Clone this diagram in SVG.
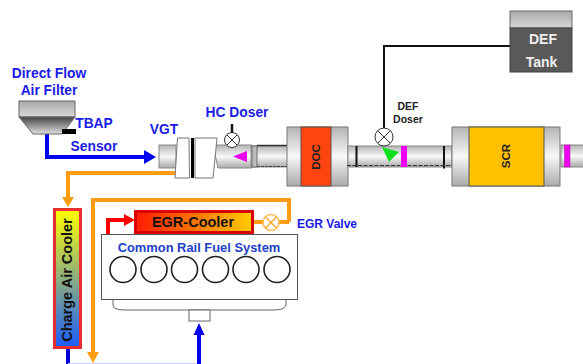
<svg xmlns="http://www.w3.org/2000/svg" width="583" height="364" viewBox="0 0 583 364">
<style>
text{font-family:"Liberation Sans",Arial,sans-serif;font-weight:bold}
.lb{fill:#1a1ae6;font-size:13.800px}
.e{fill:url(#pipe);stroke:#888;stroke-width:1}
.can{fill:url(#pipe);stroke:#777;stroke-width:1}
.cyl{fill:#fff;stroke:#222;stroke-width:1.6}
.val{fill:#fff;stroke:#333;stroke-width:1}
.x{stroke:#333;stroke-width:1;fill:none}
.or{fill:none;stroke:#ff9c12;stroke-width:4}
.bl{fill:none;stroke:#0000f0;stroke-width:4}
</style>
<defs>
<linearGradient id="pipe" x1="0" y1="0" x2="0" y2="1"><stop offset="0" stop-color="#b4b4b4"/><stop offset=".5" stop-color="#f8f8f8"/><stop offset="1" stop-color="#aaa"/></linearGradient>
<linearGradient id="fun" x1="0" y1="0" x2="0" y2="1"><stop offset="0" stop-color="#444"/><stop offset="1" stop-color="#e0e0e0"/></linearGradient>
<linearGradient id="top" x1="0" y1="0" x2="0" y2="1"><stop offset="0" stop-color="#a8a8a8"/><stop offset="1" stop-color="#d8d8d8"/></linearGradient>
<linearGradient id="cac" x1="0" y1="0" x2="0" y2="1"><stop offset="0" stop-color="#ffff00"/><stop offset="1" stop-color="#1a5cff"/></linearGradient>
<linearGradient id="egr" x1="0" y1="0" x2="1" y2="0"><stop offset="0" stop-color="#ff1a00"/><stop offset="1" stop-color="#ffcc00"/></linearGradient>
</defs>

<g id="connectors">
<path class="bl" d="M47 134V157H145"/><path d="M144 150L156 157L144 164Z" fill="#0000f0"/>
<path class="or" d="M176 173H68V197"/><path d="M62 197H74L68 207Z" fill="#ff9c12"/>
<path class="or" d="M289 222V200H93V352"/><path d="M87 352H99L93 363Z" fill="#ff9c12"/>
<path d="M68 349V364" fill="none" stroke="#0000d8" stroke-width="4"/>
<path d="M68 363.500H199" fill="none" stroke="#ccccff" stroke-width="1"/>
<path class="bl" d="M199 333V364"/><path d="M193.500 335L199 323L204.500 335Z" fill="#0000f0"/>
<path d="M108 234V220H126" fill="none" stroke="#ff0000" stroke-width="4"/><path d="M124 214L135 220L124 226Z" fill="#ff0000"/>
<path d="M253 222H289" fill="none" stroke="#ff9c12" stroke-width="4"/>
<path d="M384 128V46H510" fill="none" stroke="#111" stroke-width="2"/>
<path d="M232 124V157" fill="none" stroke="#111" stroke-width="2.500"/>
</g>

<g id="air-filter">
<rect x="19" y="101" width="56" height="16" fill="url(#top)" stroke="#666"/>
<path d="M19 117H75L62 134H33Z" fill="url(#fun)" stroke="#666"/>
<rect x="62" y="129" width="14" height="5" fill="#000"/>
<text class="lb" x="49" y="78" text-anchor="middle">Direct Flow</text>
<text class="lb" x="49" y="95" text-anchor="middle">Air Filter</text>
<text class="lb" x="94" y="128" text-anchor="middle">TBAP</text>
<text class="lb" x="94" y="151" text-anchor="middle">Sensor</text>
</g>

<g id="vgt">
<rect x="159" y="145" width="17" height="23" class="e"/>
<path d="M213 145H252V168H218Z" class="e"/>
<path d="M177.500 138H189L189.500 178H175Z" fill="#fff" stroke="#777"/>
<path d="M195 138H217L213 178H195Z" fill="#fff" stroke="#777"/>
<path d="M192.500 138V178" stroke="#000" stroke-width="3"/>
<text class="lb" x="164" y="134" text-anchor="middle">VGT</text>
</g>

<g id="hc-doser">
<circle cx="232" cy="140" r="7.500" class="val"/><path class="x" d="M227 135L237 145M237 135L227 145"/>
<path d="M247 151V162L233 156.500Z" fill="#f000f0"/>
<text class="lb" x="237" y="117" text-anchor="middle">HC Doser</text>
</g>

<g id="doc">
<rect x="251" y="146" width="37" height="21" class="e"/>
<rect x="252" y="146" width="5" height="21" fill="#bbb" stroke="#555" stroke-width=".8"/>
<path d="M257 145.500H288" stroke="#333" stroke-width="1.500"/>
<path d="M257 166.500H288" stroke="#444" stroke-dasharray="3 1" stroke-width="1"/>
<rect x="287" y="127" width="61" height="59" class="can"/>
<rect x="301" y="127" width="30" height="59" fill="#ff4410" stroke="#555"/>
<text x="316" y="157" text-anchor="middle" font-size="11.500" fill="#222" transform="rotate(-90 316 157)" dy="4">DOC</text>
</g>

<g id="def-doser">
<rect x="348" y="146" width="104" height="21" class="e"/>
<path d="M356.500 146V167M444 146V168.500" stroke="#111" stroke-width="2"/>
<path d="M347 165.500H461" stroke="#333" stroke-width="1" stroke-dasharray="4 1.500"/>
<circle cx="384" cy="137" r="9" class="val"/><path class="x" d="M378 131L390 143M390 131L378 143"/>
<path d="M382 147L399 152L389 162Z" fill="#10e020"/>
<rect x="401" y="146" width="6" height="21" fill="#f000f0"/>
<text x="408" y="110" text-anchor="middle" font-size="10.500" fill="#222">DEF</text>
<text x="408" y="123" text-anchor="middle" font-size="10.500" fill="#222">Doser</text>
</g>

<g id="scr">
<rect x="452" y="127" width="108" height="59" class="can"/>
<rect x="469" y="127" width="75" height="59" fill="#ffc000" stroke="#555"/>
<text x="506" y="156" text-anchor="middle" font-size="11.500" fill="#222" transform="rotate(-90 506 156)" dy="4">SCR</text>
<rect x="561" y="145" width="23" height="22" class="e"/>
<rect x="564.500" y="145" width="5.500" height="22" fill="#f000f0" stroke="#c000c0" stroke-width=".5"/>
</g>

<g id="def-tank">
<rect x="510" y="11" width="62" height="17" fill="url(#top)" stroke="#666"/>
<rect x="510" y="28" width="62" height="44" fill="#595959" stroke="#444"/>
<text x="543" y="44" text-anchor="middle" font-size="14" fill="#eee">DEF</text>
<text x="541.500" y="67" text-anchor="middle" font-size="14" fill="#eee">Tank</text>
</g>

<g id="charge-air-cooler">
<rect x="54.500" y="209.500" width="26" height="138" fill="url(#cac)" stroke="#e83030" stroke-width="3"/>
<text x="67" y="280" text-anchor="middle" font-size="14.500" fill="#111" transform="rotate(-90 67 280)" dy="5">Charge Air Cooler</text>
</g>

<g id="egr-cooler">
<rect x="135.500" y="211.500" width="117" height="21" fill="url(#egr)" stroke="#d80000" stroke-width="3"/>
<text x="193" y="227" text-anchor="middle" font-size="14.500" fill="#111">EGR-Cooler</text>
</g>

<g id="egr-valve">
<circle cx="271" cy="222.500" r="8" fill="#fff" stroke="#ffbb55" stroke-width="1.500"/>
<path d="M265.500 217L276.500 228M276.500 217L265.500 228" stroke="#ffaa33" stroke-width="1.500"/>
<text class="lb" x="327" y="228" text-anchor="middle" style="font-size:12px">EGR Valve</text>
</g>

<g id="engine">
<path d="M113 299V305Q113 310 125 310H274Q286 310 286 304V299" fill="#fff" stroke="#666"/>
<rect x="189" y="310" width="21" height="11" fill="#fff" stroke="#666"/>
<rect x="101.500" y="234.500" width="196" height="65" fill="#fff" stroke="#555"/>
<text x="199" y="252" text-anchor="middle" font-size="12.900" fill="#2040c8">Common Rail Fuel System</text>
<circle class="cyl" cx="123" cy="269.500" r="13"/>
<circle class="cyl" cx="154" cy="269.500" r="13"/>
<circle class="cyl" cx="184.500" cy="269.500" r="13"/>
<circle class="cyl" cx="215.500" cy="269.500" r="13"/>
<circle class="cyl" cx="246" cy="269.500" r="13"/>
<circle class="cyl" cx="277" cy="269.500" r="13"/>
</g>
</svg>
